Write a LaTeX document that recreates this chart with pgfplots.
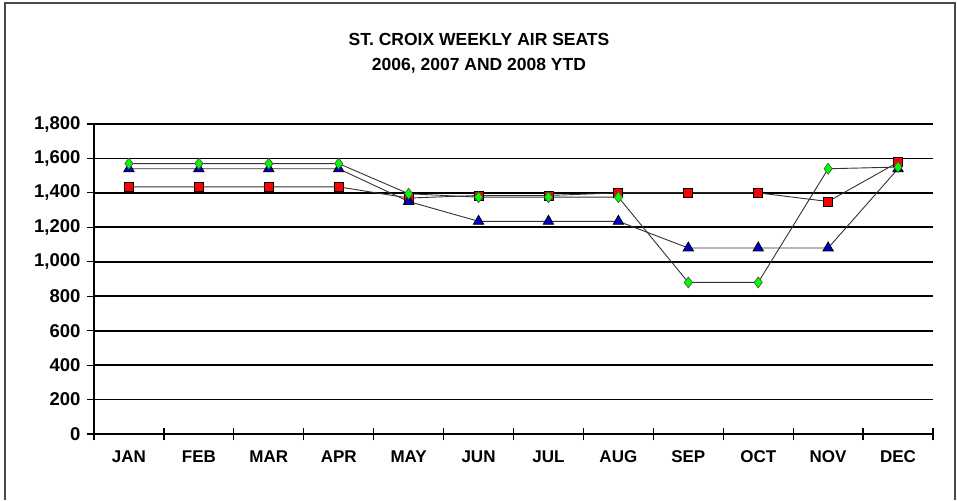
\documentclass[border=0pt]{standalone}
\usepackage{pgfplots}
\pgfplotsset{compat=1.18}
\usepackage{fontspec}
\setmainfont{Liberation Sans}
\definecolor{sred}{HTML}{FF0000}
\definecolor{sblue}{HTML}{0000CC}
\definecolor{sgreen}{HTML}{00FF00}
\definecolor{bord}{HTML}{4A4A4A}
\begin{document}
\begin{tikzpicture}[x=1pt,y=1pt]
\useasboundingbox (0,0) rectangle (957,500);
\draw[bord,line width=2pt] (5,0) -- (5,497) -- (955,497) -- (955,0);
\node[anchor=base,font=\fontsize{17.5}{20}\selectfont\bfseries] at (479,454) {ST. CROIX WEEKLY AIR SEATS};
\node[anchor=base,font=\fontsize{17.5}{20}\selectfont\bfseries] at (479,429) {2006, 2007 AND 2008 YTD};
\begin{axis}[
  at={(94pt,66pt)}, anchor=south west,
  width=839pt, height=310pt, scale only axis,
  xmin=-0.5, xmax=11.5, ymin=0, ymax=1800,
  axis x line*=bottom, axis y line*=left,
  axis line style={line width=1.5pt, black},
  xtick={0,...,11},
  xticklabels={JAN,FEB,MAR,APR,MAY,JUN,JUL,AUG,SEP,OCT,NOV,DEC},
  minor xtick={-0.5,0.5,...,11.5},
  major x tick style={draw=none},
  minor x tick style={line width=1.2pt, black},
  xtick align=center,
  minor tick length=12pt,
  ytick={0,200,...,1800},
  ytick align=outside,
  major tick length=7pt,
  y tick style={line width=1.2pt, black},
  ymajorgrids,
  major grid style={line width=1.8pt, black},
  xticklabel style={yshift=-10pt, font=\fontsize{17}{20}\selectfont\bfseries},
  yticklabel style={xshift=-3pt, font=\fontsize{18.5}{20}\selectfont\bfseries},
  /pgf/number format/.cd, 1000 sep={,}, assume math mode=true,
]
\addplot[line width=0.9pt, black!80, mark=square*, mark size=4.5pt, mark options={fill=sred, draw=black, line width=0.8pt, solid}]
  coordinates {(0,1435)(1,1435)(2,1435)(3,1435)(4,1370)(5,1385)(6,1385)(7,1400)(8,1400)(9,1400)(10,1350)(11,1578)};
\addplot[line width=0.9pt, black!80, mark=triangle*, mark size=6pt, mark options={fill=sblue, draw=black, line width=0.8pt, solid}]
  coordinates {(0,1540)(1,1540)(2,1540)(3,1540)(4,1350)(5,1235)(6,1235)(7,1235)(8,1080)(9,1080)(10,1080)(11,1540)};
\addplot[line width=0.9pt, black!80, mark=diamond*, mark size=5.5pt, mark options={fill=sgreen, draw=black!70, line width=0.6pt, solid}]
  coordinates {(0,1570)(1,1570)(2,1570)(3,1570)(4,1395)(5,1375)(6,1375)(7,1375)(8,880)(9,880)(10,1540)(11,1550)};
\end{axis}
\end{tikzpicture}
\end{document}
